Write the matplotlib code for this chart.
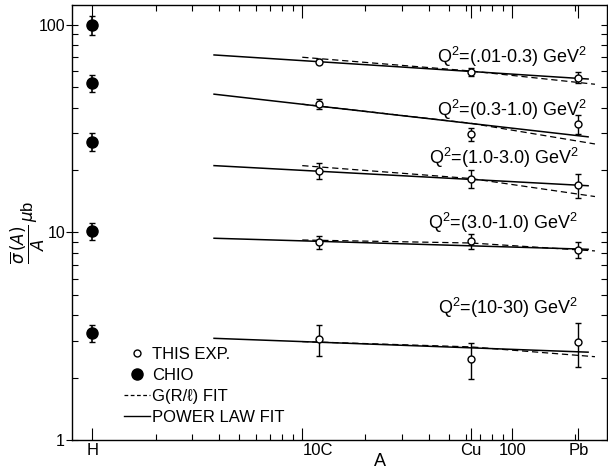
import numpy as np
import matplotlib
matplotlib.use('Agg')
import matplotlib.pyplot as plt
from matplotlib.lines import Line2D
import matplotlib.transforms as mtransforms

plt.rcParams['font.family'] = ['Liberation Sans', 'DejaVu Sans']
plt.rcParams['mathtext.fontset'] = 'dejavusans'

# nuclear targets measured in this experiment
targets = ['C', 'Cu', 'Pb']
A_nuc = [12, 63.5, 207]

q2_labels = [r'Q$^{\mathregular{2}}$=(.01-0.3) GeV$^{\mathregular{2}}$',
             r'Q$^{\mathregular{2}}$=(0.3-1.0) GeV$^{\mathregular{2}}$',
             r'Q$^{\mathregular{2}}$=(1.0-3.0) GeV$^{\mathregular{2}}$',
             r'Q$^{\mathregular{2}}$=(3.0-1.0) GeV$^{\mathregular{2}}$',
             r'Q$^{\mathregular{2}}$=(10-30) GeV$^{\mathregular{2}}$']

# this experiment, sigma/A in microbarn
sigma_exp = [[66.6, 59.6, 55.8],
             [41.5, 29.8, 33.3],
             [19.8, 18.2, 16.9],
             [8.97, 9.1, 8.24],
             [3.06, 2.45, 2.96]]
err_exp = [[1.9, 2.6, 3.5],
           [2.3, 2.2, 3.4],
           [1.7, 1.9, 2.3],
           [0.68, 0.73, 0.73],
           [0.52, 0.48, 0.7]]

# CHIO hydrogen points
A_H = 1
sigma_H = [100, 52.4, 27.4, 10.17, 3.27]
err_H = [11, 5, 2.7, 0.98, 0.31]

# power law fit (line ends)
power_A = [3.8, 230]
power_fit = [[71.7, 54.9],
             [46.4, 28.9],
             [21.0, 16.8],
             [9.38, 8.30],
             [3.09, 2.65]]

# G(R/l) fit
g_A = [10, 63.5, 248]
g_fit = [[69.9, 60.0, 51.8],
         [41.5, 33.6, 26.7],
         [21.0, 18.2, 14.9],
         [9.2, 8.9, 8.15],
         [2.98, 2.81, 2.52]]

label_pos = [(227, 70.3), (227, 38.9), (207, 22.9), (205, 11.1), (205, 4.33)]

fig = plt.figure(figsize=(6.08, 4.69), dpi=100)
ax = fig.add_axes([72/608., 29/469., 535/608., 435/469.])
ax.set_xscale('log')
ax.set_yscale('log')
ax.set_xlim(0.80, 283)
ax.set_ylim(1, 124.8)

for i in range(len(sigma_exp)):
    ax.plot(power_A, power_fit[i], '-', color='k', lw=1.1)
    ax.plot(g_A, g_fit[i], '--', color='k', lw=0.9, dashes=(5, 3))
    ax.errorbar(A_nuc, sigma_exp[i], yerr=err_exp[i], fmt='o', mfc='white',
                mec='k', ms=5, mew=1, ecolor='k', elinewidth=1, capsize=2.5,
                zorder=5)
    ax.text(label_pos[i][0], label_pos[i][1], q2_labels[i], ha='right',
            va='center', fontsize=13)

ax.errorbar([A_H] * len(sigma_H), sigma_H, yerr=err_H, fmt='o', color='k',
            ms=8, elinewidth=1.2, capsize=2.5, zorder=5)

# ticks
ax.set_xticks([1, 10, 63.5, 100, 207])
ax.set_xticklabels(['H', '10C', 'Cu', '100', 'Pb'])
minor_x = [2, 3, 4, 5, 6, 7, 8, 9, 20, 30, 40, 50, 60, 70, 80, 90, 200]
ax.set_xticks(minor_x, minor=True)
ax.xaxis.set_minor_formatter(matplotlib.ticker.NullFormatter())
lab = ax.get_xticklabels()[1]
lab.set_ha('left')
lab.set_transform(lab.get_transform() + mtransforms.ScaledTranslation(-5/72., 0, fig.dpi_scale_trans))

ax.set_yticks([1, 10, 100])
ax.set_yticklabels(['1', '10', '100'])
ax.tick_params(which='both', direction='in', top=True, right=True,
               labelsize=12, width=0.8)
ax.tick_params(axis='y', which='major', direction='inout', length=8, pad=1,
               labelsize=11.5)
ax.tick_params(axis='x', which='major', length=9, pad=2)
ax.tick_params(which='minor', length=4)

ax.text(0.575, -0.05, 'A', transform=ax.transAxes, ha='center', va='center',
        fontsize=13)
fig.text(0.045, 0.505, r'$\dfrac{\overline{\sigma}\,(A)}{A}\,\mu$b', rotation=90,
         ha='center', va='center', fontsize=12)

handles = [Line2D([], [], ls='none', marker='o', mfc='white', mec='k', ms=5),
           Line2D([], [], ls='none', marker='o', color='k', ms=8),
           Line2D([], [], ls='--', color='k', lw=0.9, dashes=(3, 2)),
           Line2D([], [], ls='-', color='k', lw=1)]
ax.legend(handles, ['THIS EXP.', 'CHIO', 'G(R/ℓ) FIT', 'POWER LAW FIT'],
          loc='lower left', bbox_to_anchor=(0.097, 0.035), frameon=False,
          fontsize=12, handlelength=1.55, handletextpad=0.15, labelspacing=0.36,
          borderpad=0, borderaxespad=0)

for s in ax.spines.values():
    s.set_linewidth(1)

plt.savefig('out.png', dpi=100)
